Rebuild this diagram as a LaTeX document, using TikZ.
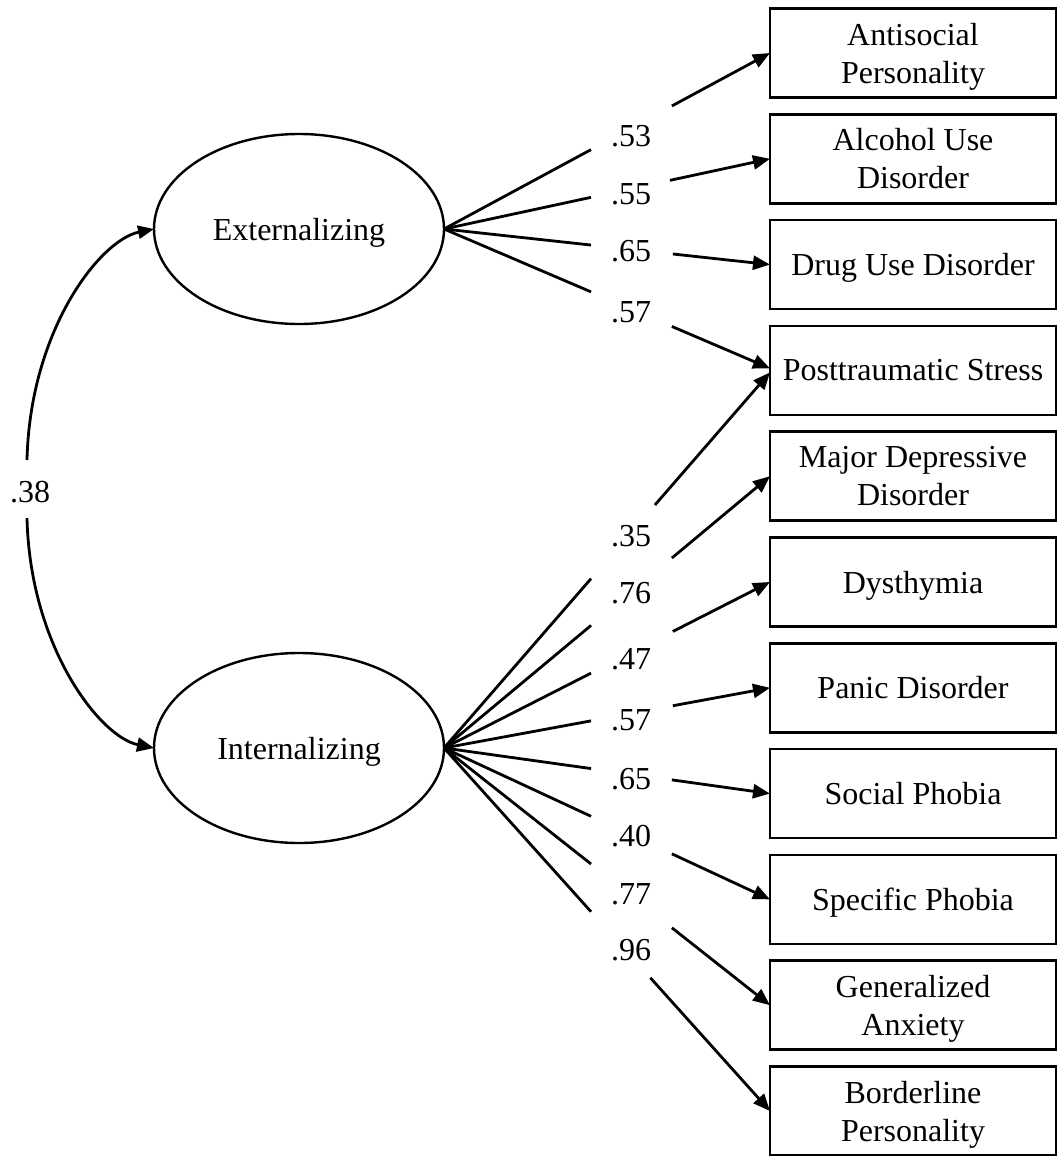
\documentclass[tikz,border=0pt]{standalone}
\usepackage{fontspec}
\setmainfont{Liberation Serif}
\usetikzlibrary{arrows.meta,calc,shapes.geometric}
\begin{document}
\begin{tikzpicture}[x=1pt,y=-1pt,
  every node/.style={font=\fontsize{32}{38}\selectfont},
  latent/.style={draw, line width=2.4pt, ellipse, minimum width=290pt, minimum height=190pt,
    inner sep=0pt, outer sep=0pt, text depth=0pt},
  obs/.style={draw, line width=2.5pt, rectangle, minimum width=286pt, minimum height=89pt,
    inner sep=0pt, outer sep=0pt, align=center, text depth=0pt},
  wt/.style={inner sep=0pt, outer sep=0pt},
  conn/.style={line width=2.8pt},
  arr/.style={conn, -{Triangle[length=17pt,width=14pt]}},
  rarr/.style={conn, {Triangle[length=16pt,width=13pt]}-}]
\useasboundingbox (0,0) rectangle (1058,1156);

% latent factors
\node[latent] (ext) at (299,229) {Externalizing};
\node[latent] (int) at (299,748) {Internalizing};

% observed indicators
\node[obs] (ant)  at (913,53.0)   {Antisocial\\Personality};
\node[obs] (alc)  at (913,158.8)  {Alcohol Use\\Disorder};
\node[obs] (drug) at (913,264.6)  {Drug Use Disorder};
\node[obs] (ptsd) at (913,370.4)  {Posttraumatic Stress};
\node[obs] (mdd)  at (913,476.2)  {Major Depressive\\Disorder};
\node[obs] (dys)  at (913,582.0)  {Dysthymia};
\node[obs] (pan)  at (913,687.8)  {Panic Disorder};
\node[obs] (soc)  at (913,793.6)  {Social Phobia};
\node[obs] (spec) at (913,899.4)  {Specific Phobia};
\node[obs] (gad)  at (913,1005.2) {Generalized\\Anxiety};
\node[obs] (bpd)  at (913,1111.0) {Borderline\\Personality};

\coordinate (ptsdA) at ([yshift=2pt]ptsd.west);
\coordinate (ptsdB) at ([yshift=-2pt]ptsd.west);

% loadings labels
\node[wt] (l1)  at (631,136) {.53};
\node[wt] (l2)  at (631,194) {.55};
\node[wt] (l3)  at (631,251) {.65};
\node[wt] (l4)  at (631,312) {.57};
\node[wt] (l5)  at (631,536) {.35};
\node[wt] (l6)  at (631,593) {.76};
\node[wt] (l7)  at (631,659) {.47};
\node[wt] (l8)  at (631,720) {.57};
\node[wt] (l9)  at (631,779) {.65};
\node[wt] (l10) at (631,836) {.40};
\node[wt] (l11) at (631,894) {.77};
\node[wt] (l12) at (631,950) {.96};

% loading paths (broken around the labels)
\foreach \src/\dst/\tb in {ext/ant.west/0.699, ext/alc.west/0.693, ext/drug.west/0.702, ext/ptsdA/0.699,
    int/ptsdB/0.647, int/mdd.west/0.699, int/dys.west/0.702, int/pan.west/0.702,
    int/soc.west/0.699, int/spec.west/0.699, int/gad.west/0.699, int/bpd.west/0.633}{
  \draw[conn] (\src.east) -- ($(\src.east)!0.451!(\dst)$);
  \draw[arr] ($(\src.east)!\tb!(\dst)$) -- (\dst);
}

% factor covariance
\coordinate (c1) at (27,460);
\coordinate (c2) at (27,518);
\node[wt] (r) at (30,492) {.38};
\draw[rarr] (ext.west) .. controls (100,240) and (30,330) .. (c1);
\draw[arr] (c2) .. controls (30,647) and (100,737) .. (int.west);
\end{tikzpicture}
\end{document}
